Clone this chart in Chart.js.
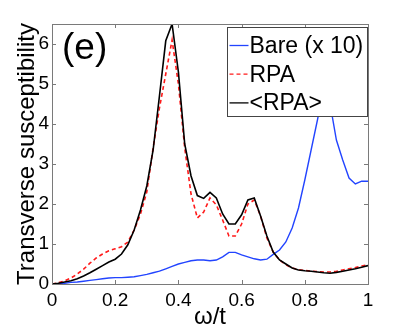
<!DOCTYPE html>
<html>
<head>
<meta charset="utf-8">
<script src="https://cdn.jsdelivr.net/npm/chart.js@4.4.1/dist/chart.umd.min.js"></script>
<style>
  html, body { margin: 0; padding: 0; background: #fff; }
  #wrap { width: 407px; height: 332px; }
</style>
</head>
<body>
<div id="wrap"><canvas id="chi" width="407" height="332"></canvas></div>
<script>
// omega / t samples
const omega = [
  0.00, 0.02, 0.04, 0.06, 0.08, 0.10, 0.12, 0.14, 0.16, 0.18,
  0.20, 0.22, 0.24, 0.26, 0.28, 0.30, 0.32, 0.34, 0.36, 0.38,
  0.40, 0.42, 0.44, 0.46, 0.48, 0.50, 0.52, 0.54, 0.56, 0.58,
  0.60, 0.62, 0.64, 0.66, 0.68, 0.70, 0.72, 0.74, 0.76, 0.78,
  0.80, 0.82, 0.84, 0.86, 0.88, 0.90, 0.92, 0.94, 0.96, 0.98, 1.00
];

// Bare susceptibility (x 10)
const bare = [
  0.00, 0.01, 0.02, 0.04, 0.05, 0.07, 0.09, 0.11, 0.13, 0.15,
  0.16, 0.16, 0.17, 0.18, 0.21, 0.24, 0.28, 0.32, 0.38, 0.44,
  0.50, 0.54, 0.58, 0.60, 0.60, 0.58, 0.60, 0.68, 0.79, 0.79,
  0.73, 0.68, 0.63, 0.60, 0.62, 0.74, 0.85, 1.05, 1.40, 1.90,
  2.60, 3.35, 4.10, 4.90, 4.50, 3.60, 3.10, 2.65, 2.50, 2.57, 2.57
];

// RPA
const rpa = [
  0.00, 0.03, 0.08, 0.15, 0.25, 0.37, 0.52, 0.65, 0.75, 0.83,
  0.88, 0.93, 1.05, 1.35, 1.75, 2.30, 3.40, 4.40, 5.25, 6.10,
  5.00, 3.40, 2.25, 1.65, 1.80, 2.15, 1.98, 1.60, 1.20, 1.20,
  1.50, 2.00, 2.10, 1.70, 1.15, 0.80, 0.60, 0.48, 0.40, 0.36,
  0.34, 0.32, 0.31, 0.30, 0.30, 0.32, 0.35, 0.38, 0.41, 0.45, 0.48
];

// <RPA>
const rpaAvg = [
  0.00, 0.02, 0.05, 0.08, 0.13, 0.20, 0.28, 0.37, 0.46, 0.55,
  0.62, 0.75, 0.98, 1.35, 1.85, 2.45, 3.35, 4.70, 6.08, 6.50,
  5.30, 3.50, 2.70, 2.21, 2.14, 2.29, 2.15, 1.75, 1.50, 1.50,
  1.73, 2.10, 2.15, 1.70, 1.20, 0.80, 0.60, 0.50, 0.40, 0.35,
  0.33, 0.32, 0.30, 0.28, 0.27, 0.29, 0.32, 0.35, 0.38, 0.42, 0.46
];

const seriesLabels = ['Bare (x 10)', 'RPA', '<RPA>'];
const xTickValues = [0, 0.2, 0.4, 0.6, 0.8, 1];
const yTickValues = [0, 1, 2, 3, 4, 5, 6];

const BLUE  = '#2244ff';
const RED   = '#ff1a1a';
const BLACK = '#000000';
const FRAME = '#7a7a7a';
const FONT  = "'Liberation Sans', Arial, Helvetica, sans-serif";

const toPoints = (ys) => ys.map((v, i) => ({ x: omega[i], y: v }));

// box outline with inward ticks on all four sides (Matlab style)
const framePlugin = {
  id: 'frame',
  afterDatasetsDraw(chart) {
    const { ctx, chartArea: a, scales: { x, y } } = chart;
    const L = 4;
    ctx.save();
    ctx.strokeStyle = FRAME;
    ctx.lineWidth = 1;
    ctx.beginPath();
    x.ticks.forEach(t => {
      const px = Math.round(x.getPixelForValue(t.value)) + 0.5;
      ctx.moveTo(px, a.bottom); ctx.lineTo(px, a.bottom - L);
      ctx.moveTo(px, a.top); ctx.lineTo(px, a.top + L);
    });
    y.ticks.forEach(t => {
      const py = Math.round(y.getPixelForValue(t.value)) + 0.5;
      ctx.moveTo(a.left, py); ctx.lineTo(a.left + L, py);
      ctx.moveTo(a.right, py); ctx.lineTo(a.right - L, py);
    });
    ctx.stroke();
    ctx.strokeRect(Math.round(a.left) + 0.5, Math.round(a.top) + 0.5,
      Math.round(a.right - a.left), Math.round(a.bottom - a.top));
    ctx.restore();
  }
};

// legend box drawn over the lines, plus the panel tag
const legendPlugin = {
  id: 'boxLegend',
  afterDraw(chart) {
    const { ctx, chartArea: a } = chart;
    const ds = chart.data.datasets;
    const w = 140, h = 89;
    const bx = Math.round(a.right) - w - 1 + 0.5;
    const by = Math.round(a.top) + 3 + 0.5;
    ctx.save();
    ctx.fillStyle = '#fff';
    ctx.fillRect(bx, by, w, h);
    ctx.strokeStyle = '#444';
    ctx.lineWidth = 1;
    ctx.strokeRect(bx, by, w, h);

    ctx.font = '23px ' + FONT;
    ctx.textBaseline = 'middle';
    ctx.textAlign = 'left';
    ds.forEach((d, i) => {
      const cy = by + 18 + i * 28.7;
      ctx.strokeStyle = d.borderColor;
      ctx.lineWidth = 1.3;
      ctx.setLineDash(d.borderDash || []);
      ctx.beginPath();
      ctx.moveTo(bx + 2, cy);
      ctx.lineTo(bx + 21, cy);
      ctx.stroke();
      ctx.setLineDash([]);
      ctx.fillStyle = '#000';
      ctx.fillText(d.label, bx + 22, cy + 1);
    });

    ctx.font = '37px ' + FONT;
    ctx.textBaseline = 'alphabetic';
    ctx.fillText('(e)', a.left + 10, a.top + 35);
    ctx.restore();
  }
};

new Chart(document.getElementById('chi'), {
  type: 'line',
  data: {
    datasets: [
      {
        label: seriesLabels[0],
        data: toPoints(bare),
        borderColor: BLUE,
        borderWidth: 1.4,
        order: 3,
      },
      {
        label: seriesLabels[1],
        data: toPoints(rpa),
        borderColor: RED,
        borderWidth: 1.6,
        borderDash: [4, 3],
        order: 2,
      },
      {
        label: seriesLabels[2],
        data: toPoints(rpaAvg),
        borderColor: BLACK,
        borderWidth: 1.6,
        order: 1,
      },
    ],
  },
  options: {
    responsive: false,
    animation: false,
    events: [],
    elements: {
      point: { radius: 0 },
      line: { tension: 0, fill: false },
    },
    layout: { padding: { top: 24, right: 39, left: 0, bottom: 0 } },
    plugins: {
      legend: { display: false },
      tooltip: { enabled: false },
    },
    scales: {
      x: {
        type: 'linear',
        min: 0,
        max: 1,
        afterBuildTicks: (s) => { s.ticks = xTickValues.map(v => ({ value: v })); },
        ticks: {
          color: '#000',
          font: { family: FONT, size: 19 },
          padding: 5,
          maxRotation: 0,
          callback: (v) => String(v),
        },
        grid: { display: false, drawTicks: false },
        border: { display: false },
        title: {
          display: true,
          text: 'ω/t',
          color: '#000',
          font: { family: FONT, size: 24 },
          padding: { top: 0, bottom: 0 },
        },
        afterFit: (s) => { s.height = 48; },
      },
      y: {
        min: 0,
        max: 6.5,
        afterBuildTicks: (s) => { s.ticks = yTickValues.map(v => ({ value: v })); },
        ticks: {
          color: '#000',
          font: { family: FONT, size: 19 },
          padding: 3,
        },
        grid: { display: false, drawTicks: false },
        border: { display: false },
        title: {
          display: true,
          text: 'Transverse susceptibility',
          color: '#000',
          font: { family: FONT, size: 24 },
          padding: { top: 13, bottom: 0 },
        },
        afterFit: (s) => { s.width = 52; },
      },
    },
  },
  plugins: [framePlugin, legendPlugin],
});
</script>
</body>
</html>
